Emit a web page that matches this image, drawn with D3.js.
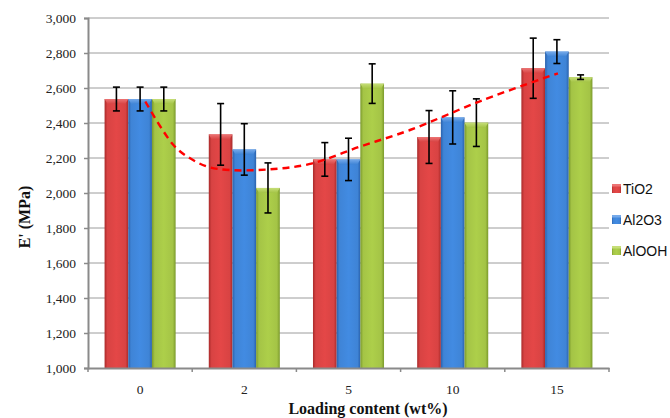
<!DOCTYPE html>
<html>
<head>
<meta charset="utf-8">
<script src="https://cdn.jsdelivr.net/npm/d3@7"></script>
<style>
  html, body { margin: 0; padding: 0; background: #fff; }
  svg { display: block; }
</style>
</head>
<body>
<svg id="chart" width="670" height="418"></svg>
<script>
// Loading content categories (wt%)
const categories = ["0", "2", "5", "10", "15"];
const seriesNames = ["TiO2", "Al2O3", "AlOOH"];

// Storage modulus E' (MPa) per filler
const tio2Values  = [2537, 2335, 2192, 2320, 2713];
const al2o3Values = [2537, 2249, 2192, 2432, 2808];
const aloohValues = [2537, 2029, 2625, 2402, 2662];

// Standard deviations (MPa)
const tio2Err  = [68, 176, 96, 151, 172];
const al2o3Err = [68, 147, 121, 152, 68];
const aloohErr = [68, 143, 113, 136, 13];

// Dashed trend curve: position along the category index and value (MPa)
const trendIndex = [0.05, 0.32, 0.48, 0.65, 0.86, 1.24, 1.63, 2.11, 2.59, 3.29, 4.01];
const trendValue = [2523, 2274, 2198, 2150, 2131, 2135, 2166, 2265, 2360, 2531, 2684];

// Y axis ticks
const yTicks = [1000, 1200, 1400, 1600, 1800, 2000, 2200, 2400, 2600, 2800, 3000];

const seriesValues = [tio2Values, al2o3Values, aloohValues];
const seriesErrors = [tio2Err, al2o3Err, aloohErr];

const palette = {
  TiO2:  { base: "#d84343", dark: "#a92a2a", light: "#ec7474" },
  Al2O3: { base: "#3f84d6", dark: "#2a62ad", light: "#76aaea" },
  AlOOH: { base: "#a4c446", dark: "#7b9a2c", light: "#c6de78" }
};

const serif = "'Liberation Serif', 'Times New Roman', serif";
const sans = "'Liberation Sans', Arial, Helvetica, sans-serif";

const svg = d3.select("#chart");
const plot = { left: 88, right: 609, top: 18, bottom: 368 };

const x = d3.scaleBand().domain(categories).range([plot.left, plot.right]).paddingInner(0).paddingOuter(0);
const xSub = d3.scaleBand().domain(seriesNames).range([0, x.bandwidth()]).paddingInner(0).paddingOuter(0.7);
const y = d3.scaleLinear().domain([1000, 3000]).range([plot.bottom, plot.top]);
const xIdx = d3.scaleLinear().domain([0, categories.length - 1])
  .range([x(categories[0]) + x.bandwidth() / 2, x(categories[categories.length - 1]) + x.bandwidth() / 2]);

// Gradients giving the bars their rounded, glossy look
const defs = svg.append("defs");
seriesNames.forEach(name => {
  const c = palette[name];
  const g = defs.append("linearGradient").attr("id", "body-" + name)
    .attr("x1", "0").attr("x2", "1").attr("y1", "0").attr("y2", "0");
  g.append("stop").attr("offset", "0").attr("stop-color", c.dark);
  g.append("stop").attr("offset", "0.12").attr("stop-color", c.base);
  g.append("stop").attr("offset", "0.5").attr("stop-color", d3.color(c.base).brighter(0.15));
  g.append("stop").attr("offset", "0.88").attr("stop-color", c.base);
  g.append("stop").attr("offset", "1").attr("stop-color", c.dark);
  const t = defs.append("linearGradient").attr("id", "cap-" + name)
    .attr("x1", "0").attr("x2", "0").attr("y1", "0").attr("y2", "1");
  t.append("stop").attr("offset", "0").attr("stop-color", c.light);
  t.append("stop").attr("offset", "1").attr("stop-color", c.base);
});

// Gridlines
svg.append("g")
  .selectAll("line")
  .data(yTicks.slice(1))
  .join("line")
  .attr("x1", plot.left).attr("x2", plot.right)
  .attr("y1", d => y(d)).attr("y2", d => y(d))
  .attr("stroke", "#9c9c9c").attr("stroke-width", 1);

// Y axis
const yAxis = svg.append("g")
  .attr("transform", `translate(${plot.left},0)`)
  .call(d3.axisLeft(y).tickValues(yTicks).tickFormat(d3.format(",")).tickSize(4).tickPadding(8));
yAxis.attr("font-family", serif);
yAxis.select(".domain").attr("stroke", "#8a8a8a").attr("stroke-width", 2);
yAxis.selectAll(".tick line").attr("stroke", "#8a8a8a").attr("stroke-width", 1.5);
yAxis.selectAll(".tick text")
  .style("font-family", serif)
  .style("font-size", "13.5px").attr("fill", "#222");

// Bars
const groups = svg.append("g").selectAll("g")
  .data(categories)
  .join("g")
  .attr("transform", d => `translate(${x(d)},0)`);

groups.each(function (cat, ci) {
  const g = d3.select(this);
  seriesNames.forEach((name, si) => {
    const v = seriesValues[si][ci];
    const bx = xSub(name), bw = xSub.bandwidth();
    const top = y(v), bottom = y(1000);
    g.append("rect")
      .attr("x", bx).attr("y", top)
      .attr("width", bw).attr("height", bottom - top)
      .attr("fill", `url(#body-${name})`);
    const capH = 5, inset = 3;
    g.append("path")
      .attr("d", `M${bx},${top} L${bx + bw},${top} L${bx + bw - inset},${top + capH} L${bx + inset},${top + capH} Z`)
      .attr("fill", `url(#cap-${name})`);
  });
});

// Error bars
groups.each(function (cat, ci) {
  const g = d3.select(this);
  seriesNames.forEach((name, si) => {
    const v = seriesValues[si][ci], e = seriesErrors[si][ci];
    const cx = xSub(name) + xSub.bandwidth() / 2;
    const cap = 3.5;
    const eb = g.append("g").attr("stroke", "#000").attr("stroke-width", 1.6);
    eb.append("line").attr("x1", cx).attr("x2", cx).attr("y1", y(v + e)).attr("y2", y(v - e));
    eb.append("line").attr("x1", cx - cap).attr("x2", cx + cap).attr("y1", y(v + e)).attr("y2", y(v + e));
    eb.append("line").attr("x1", cx - cap).attr("x2", cx + cap).attr("y1", y(v - e)).attr("y2", y(v - e));
  });
});

// X axis
const xAxis = svg.append("g")
  .attr("transform", `translate(0,${plot.bottom})`)
  .call(d3.axisBottom(x).tickSize(0).tickPadding(16));
xAxis.attr("font-family", serif);
xAxis.select(".domain").attr("stroke", "#8a8a8a").attr("stroke-width", 2);
xAxis.selectAll(".tick text")
  .style("font-family", serif)
  .style("font-size", "13.5px").attr("fill", "#222");
// Tick marks between categories
xAxis.append("g").selectAll("line")
  .data(categories.concat(["end"]))
  .join("line")
  .attr("x1", (d, i) => plot.left + i * x.step()).attr("x2", (d, i) => plot.left + i * x.step())
  .attr("y1", 0).attr("y2", 4)
  .attr("stroke", "#8a8a8a").attr("stroke-width", 1.5);

// Dashed trend curve
const trendLine = d3.line()
  .x((d, i) => xIdx(trendIndex[i]))
  .y(d => y(d))
  .curve(d3.curveCatmullRom.alpha(0.5));
svg.append("path")
  .attr("d", trendLine(trendValue))
  .attr("fill", "none")
  .attr("stroke", "#ff0000")
  .attr("stroke-width", 2.4)
  .attr("stroke-dasharray", "7,5");

// Axis titles
svg.append("text")
  .attr("transform", "translate(30,217) rotate(-90)")
  .attr("text-anchor", "middle")
  .attr("font-family", serif)
  .attr("font-weight", "bold").attr("font-size", 16).attr("fill", "#111")
  .text("E' (MPa)");

svg.append("text")
  .attr("x", 368).attr("y", 414)
  .attr("text-anchor", "middle")
  .attr("font-family", serif)
  .attr("font-weight", "bold").attr("font-size", 16).attr("fill", "#111")
  .text("Loading content (wt%)");

// Legend
const legend = svg.append("g").attr("transform", "translate(612,184)");
const legendItems = legend.selectAll("g")
  .data(seriesNames)
  .join("g")
  .attr("transform", (d, i) => `translate(0,${i * 31})`);
legendItems.append("rect")
  .attr("width", 9).attr("height", 9)
  .attr("fill", d => `url(#body-${d})`);
legendItems.append("rect")
  .attr("width", 9).attr("height", 2.5)
  .attr("fill", d => palette[d].light);
legendItems.append("text")
  .attr("x", 11).attr("y", 4.5).attr("dy", "0.36em")
  .attr("font-family", sans)
  .attr("font-size", 14).attr("fill", "#111")
  .text(d => d);
</script>
</body>
</html>
